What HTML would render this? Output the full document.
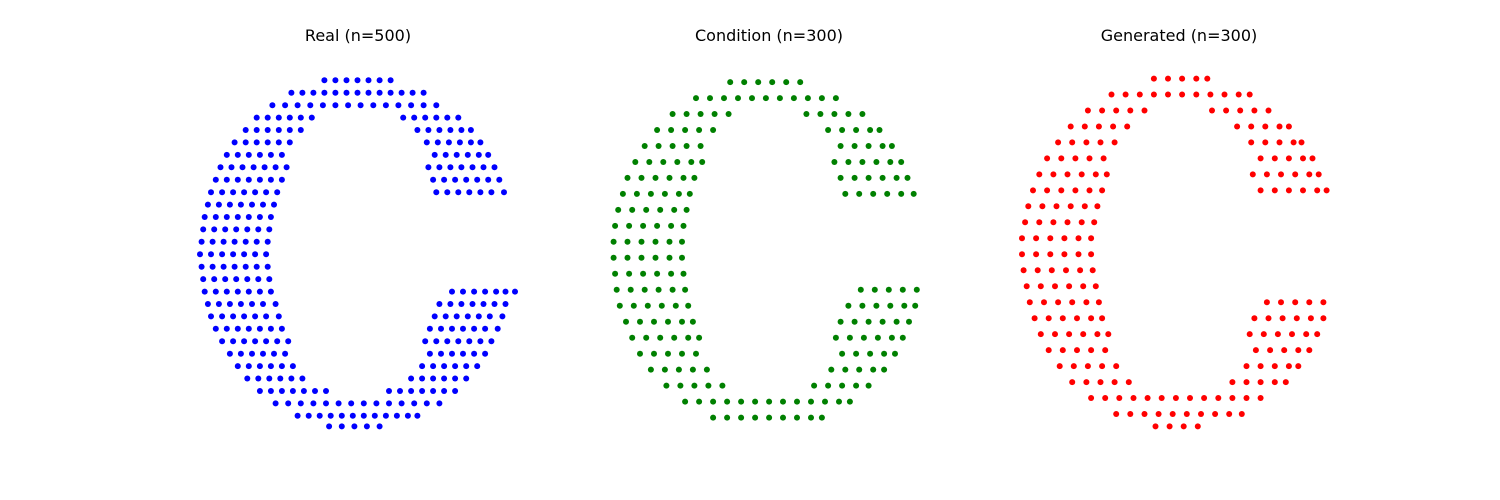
<!DOCTYPE html>
<html>
<head>
<meta charset="utf-8">
<style>
  html, body { margin: 0; padding: 0; background: #ffffff; }
  svg { display: block; }
  text { font-family: "DejaVu Sans", "Liberation Sans", sans-serif; font-size: 16px; fill: #000; }
</style>
</head>
<body>
<svg id="chart" width="1500" height="500" viewBox="0 0 1500 500" xmlns="http://www.w3.org/2000/svg">
  <rect x="0" y="0" width="1500" height="500" fill="#ffffff"/>
  <text x="358" y="41" text-anchor="middle">Real (n=500)</text>
  <text x="769" y="41" text-anchor="middle">Condition (n=300)</text>
  <text x="1179" y="41" text-anchor="middle">Generated (n=300)</text>
</svg>
<script>
// Data: rows of points (y value per row, x values per row), data units -100..100
const realRowY = [97,90,83,76,69,62,55,48,41,34,27,20,13,6,-1,-8,-15,-22,-29,-36,-43,-50,-57,-64,-71,-78,-85,-92,-98];
const realRowX = [
  [-21,-14,-7,0,7,14,21],
  [-42,-35,-28,-21,-14,-7,0,7,14,21,28,35,42],
  [-54,-46,-38,-30,-22,-14,-6,2,10,18,26,34,42,50],
  [-64,-57,-50,-43,-36,-29,29,36,43,50,57,64],
  [-71,-64,-57,-50,-43,-36,38,45,52,59,66,72],
  [-78,-71,-64,-57,-50,-43,44,51,58,65,72,78],
  [-83,-76,-69,-62,-55,-48,49,56,63,70,77,83],
  [-87,-80,-73,-66,-59,-52,-45,45,52,59,66,73,80,87],
  [-90,-83,-76,-69,-62,-55,-48,48,55,62,69,76,83,90],
  [-93,-86,-79,-72,-65,-58,-51,50,57,64,71,78,85,93],
  [-95,-88,-81,-74,-67,-60,-53],
  [-97,-90,-83,-76,-69,-62,-55],
  [-98,-91,-84,-77,-70,-63,-56],
  [-99,-92,-85,-78,-71,-64,-57],
  [-100,-93,-86,-79,-72,-65,-58],
  [-99,-92,-85,-78,-71,-64,-57],
  [-98,-91,-84,-77,-70,-63,-56],
  [-97,-90,-83,-76,-69,-62,-55,60,67,74,81,88,94,100],
  [-95,-88,-81,-74,-67,-60,-52,52,59,66,73,80,87,94],
  [-93,-86,-79,-72,-65,-58,-50,49,56,63,70,77,84,92],
  [-90,-83,-76,-69,-62,-55,-48,46,53,60,67,74,81,89],
  [-86,-79,-72,-65,-58,-51,-44,43,50,57,64,71,78,85],
  [-81,-74,-67,-60,-53,-46,46,53,60,67,74,81],
  [-76,-69,-62,-55,-48,-41,41,48,55,62,69,76],
  [-70,-63,-56,-49,-42,-35,34,41,48,55,62,69],
  [-62,-55,-48,-41,-34,-27,-20,20,27,34,41,48,55,62],
  [-52,-44,-36,-28,-20,-12,-4,4,12,20,28,36,44,52],
  [-38,-31,-24,-17,-10,-3,4,11,18,25,32,38],
  [-18,-10,-2,6,14]
];
const condRowY = [96,87,78,69,60,51,42,33,24,15,6,-3,-12,-21,-30,-39,-48,-57,-66,-75,-84,-93];
const condRowX = [
  [-24,-15,-6,3,12,21],
  [-46,-37,-28,-19,-10,-1,8,17,26,35,44],
  [-61,-52,-43,-34,-25,25,34,43,52,61],
  [-71,-62,-53,-44,-35,39,48,57,66,72],
  [-79,-70,-61,-52,-43,47,56,65,74,80],
  [-85,-76,-67,-58,-49,-42,43,52,61,70,79,86],
  [-90,-81,-72,-63,-54,-47,47,56,65,74,83,90],
  [-93,-84,-75,-66,-57,-50,50,59,68,77,86,94],
  [-96,-87,-78,-69,-60,-52],
  [-98,-89,-80,-71,-62,-54],
  [-99,-90,-81,-72,-63,-55],
  [-99,-90,-81,-72,-63,-55],
  [-98,-89,-80,-71,-62,-54],
  [-97,-88,-79,-70,-61,-53,60,69,78,87,96],
  [-95,-86,-77,-68,-59,-51,52,61,70,79,88,95],
  [-91,-82,-73,-64,-55,-48,47,56,65,74,83,91],
  [-87,-78,-69,-60,-51,-44,44,53,62,71,80,87],
  [-82,-73,-64,-55,-46,48,57,66,75,82],
  [-75,-66,-57,-48,-39,41,50,59,68,75],
  [-65,-56,-47,-38,-29,30,39,48,57,65],
  [-53,-44,-35,-26,-17,-8,1,10,19,28,37,46,53],
  [-35,-26,-17,-8,1,10,19,28,35]
];
const genRowY = [98,89,80,71,62,53,44,35,26,17,8,-1,-10,-19,-28,-37,-46,-55,-64,-73,-82,-91,-98];
const genRowX = [
  [-16,-7,2,11,18],
  [-43,-34,-25,-16,-7,2,11,20,29,38,45],
  [-58,-49,-40,-31,-22,21,30,39,48,57],
  [-69,-60,-51,-42,-33,37,46,55,64,70],
  [-77,-68,-59,-50,-41,46,55,64,73,78],
  [-84,-75,-66,-57,-48,52,61,70,79,85],
  [-89,-80,-71,-62,-53,-46,47,56,65,74,83,89],
  [-93,-84,-75,-66,-57,-49,52,61,70,79,88,94],
  [-96,-87,-78,-69,-60,-52],
  [-98,-89,-80,-71,-62,-54],
  [-100,-91,-82,-73,-64,-56],
  [-100,-91,-82,-73,-64,-56],
  [-99,-90,-81,-72,-63,-55],
  [-97,-88,-79,-70,-61,-53],
  [-95,-86,-77,-68,-59,-51,56,65,74,83,92],
  [-92,-83,-74,-65,-56,-49,48,57,66,75,84,92],
  [-88,-79,-70,-61,-52,-45,45,54,63,72,81,88],
  [-83,-74,-65,-56,-47,49,58,67,76,83],
  [-76,-67,-58,-49,-40,43,52,61,70,76],
  [-68,-59,-50,-41,-32,34,43,52,61,68],
  [-56,-47,-38,-29,-20,-11,-2,7,16,25,34,43,52],
  [-40,-31,-22,-13,-4,5,14,23,32,40],
  [-15,-6,3,12]
];

const NS = 'http://www.w3.org/2000/svg';
const svg = document.getElementById('chart');

function makeScales(cx, halfW) {
  const top = 75, bottom = 430;
  return {
    x: v => cx + v / 100 * halfW,
    y: v => (top + bottom) / 2 - v / 100 * (bottom - top) / 2
  };
}

function drawPanel(name, rowY, rowX, color, cx, halfW) {
  const s = makeScales(cx, halfW);
  const g = document.createElementNS(NS, 'g');
  
  
  for (let i = 0; i < rowY.length; i++) {
    for (const xv of rowX[i]) {
      const c = document.createElementNS(NS, 'circle');
      c.setAttribute('cx', s.x(xv).toFixed(1));
      c.setAttribute('cy', s.y(rowY[i]).toFixed(1));
      c.setAttribute('r', 3);
      c.setAttribute('fill', color);
      
      
      g.appendChild(c);
    }
  }
  svg.appendChild(g);
}

drawPanel('real', realRowY, realRowX, '#0000ff', 357.5, 157.5);
drawPanel('condition', condRowY, condRowX, '#008000', 767.5, 155.5);
drawPanel('generated', genRowY, genRowX, '#ff0000', 1179, 157);
</script>
</body>
</html>
